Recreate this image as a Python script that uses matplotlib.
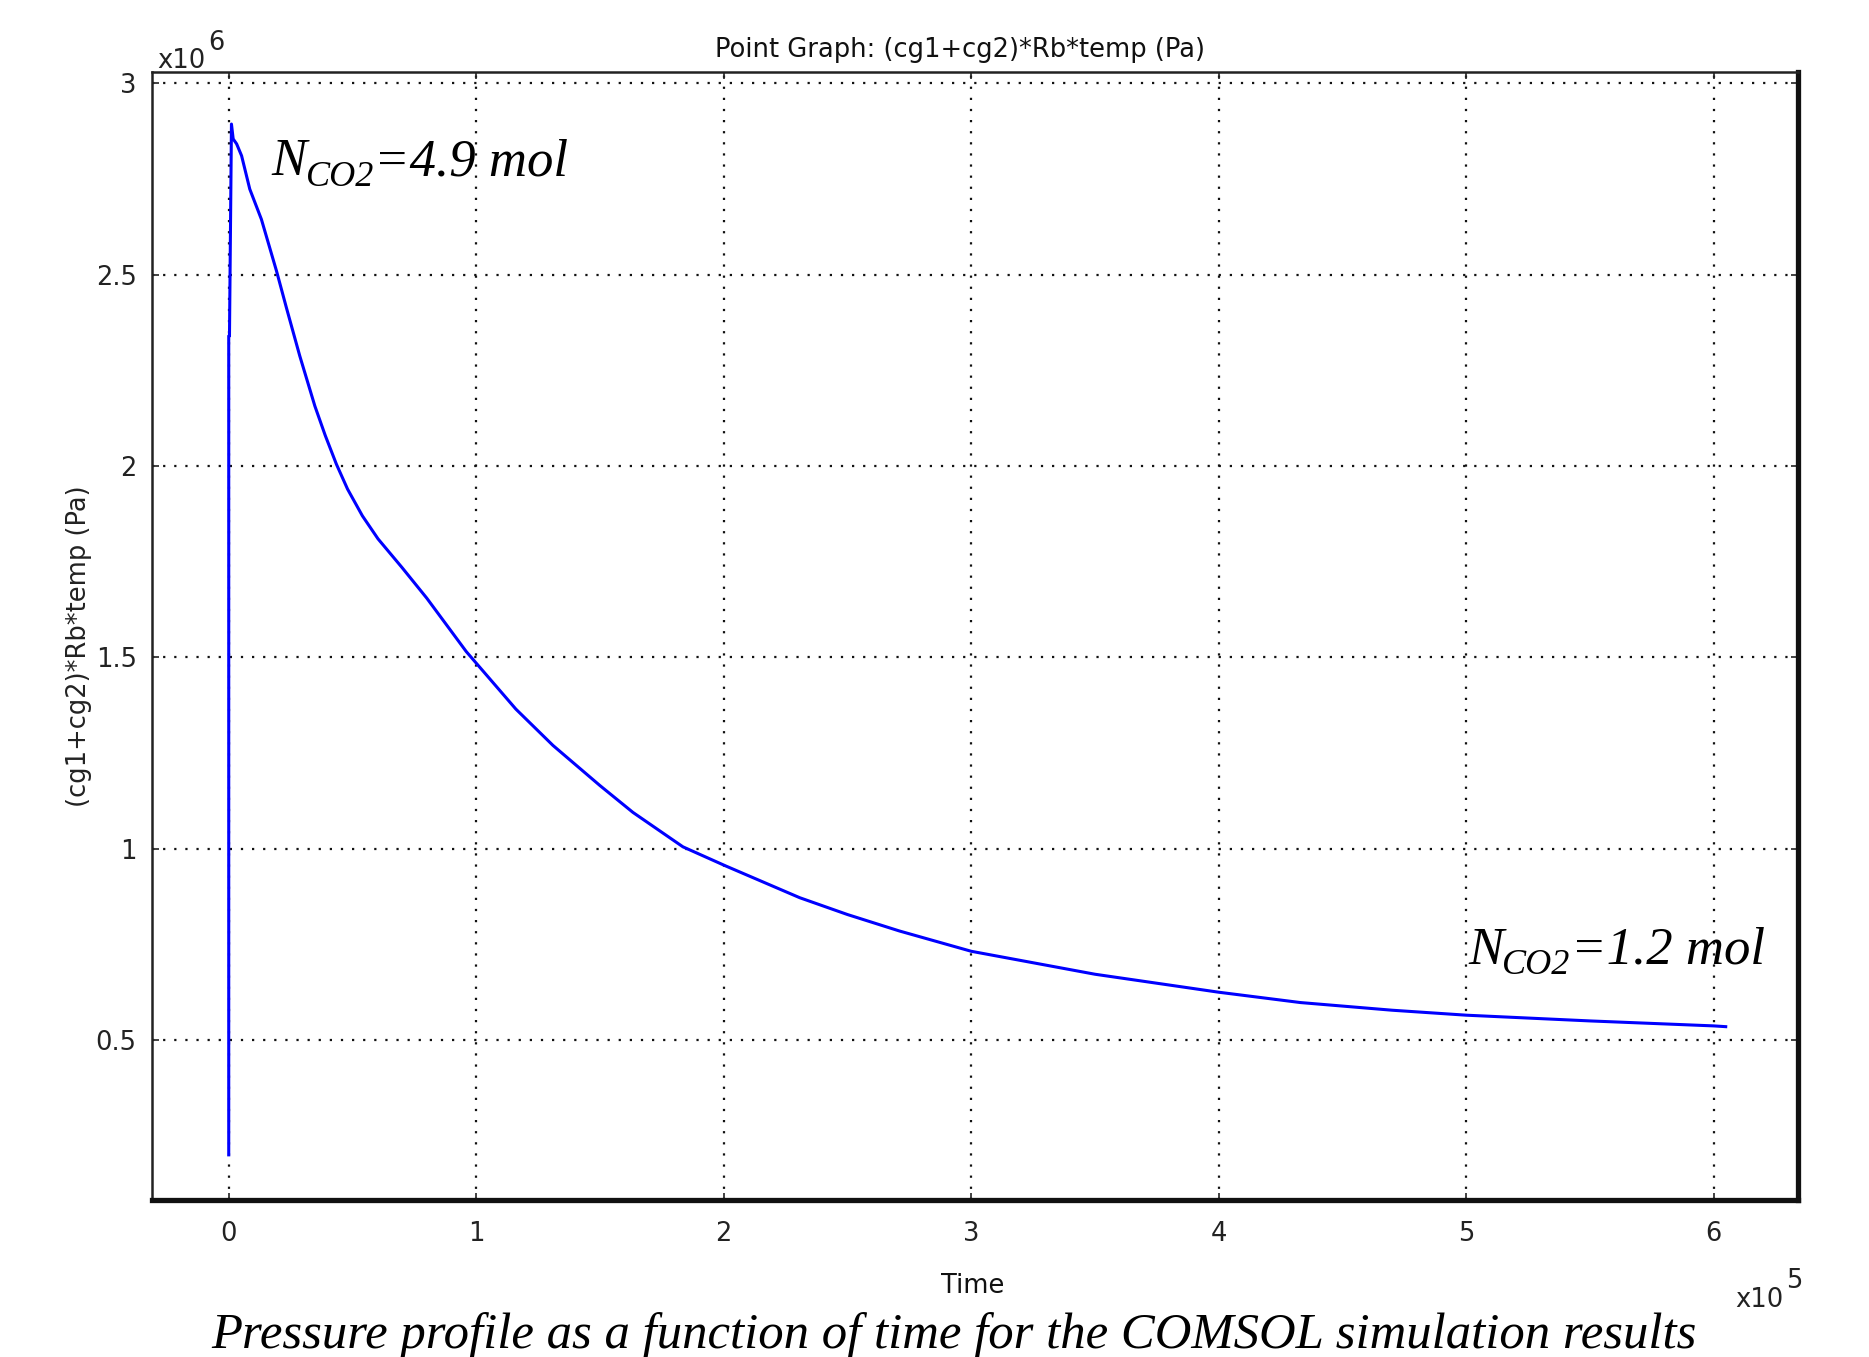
import matplotlib
matplotlib.use('Agg')
import matplotlib.pyplot as plt

## Pressure history from the COMSOL point graph, (cg1+cg2)*Rb*temp
## time in units of 1e5 s, pressure in units of 1e6 Pa

time_1e5 = [0.0, 0.0, 0.003, 0.011, 0.018, 0.032, 0.052, 0.085, 0.132, 0.193, 0.233,
            0.287, 0.348, 0.39, 0.435, 0.48, 0.54, 0.603, 0.70, 0.80, 0.96, 1.16,
            1.31, 1.50, 1.633, 1.835, 2.008, 2.307, 2.50, 2.71, 3.0, 3.5, 4.0,
            4.33, 4.7, 5.0, 5.5, 6.0, 6.048]
pressure_1e6 = [0.20, 2.34, 2.34, 2.894, 2.855, 2.842, 2.811, 2.724, 2.645, 2.510, 2.414,
                2.288, 2.157, 2.08, 2.005, 1.94, 1.87, 1.81, 1.735, 1.655, 1.515, 1.365,
                1.270, 1.165, 1.095, 1.005, 0.955, 0.872, 0.828, 0.785, 0.732, 0.672, 0.625,
                0.598, 0.578, 0.565, 0.550, 0.537, 0.535]

x_ticks = [0, 1, 2, 3, 4, 5, 6]
y_ticks = [0.5, 1, 1.5, 2, 2.5, 3]
y_ticklabels = ['0.5', '1', '1.5', '2', '2.5', '3']

n_start = 4.9
n_end = 1.2

W, H = 1869, 1357
sans = ['DejaVu Sans']
serif = ['Liberation Serif', 'DejaVu Serif']

plt.rcParams['font.family'] = sans

fig = plt.figure(figsize=(W/100, H/100), dpi=100)
fig.patch.set_facecolor('white')

# axes box in pixel coordinates (left, top, right, bottom)
l, t, r, b = 152, 72, 1798, 1200
ax = fig.add_axes([l/W, 1 - b/H, (r - l)/W, (b - t)/H])

ax.plot(time_1e5, pressure_1e6, color='#0000ff', lw=2.2, zorder=3)

ax.set_xlim(-0.31, 6.34)
ax.set_ylim(0.082, 3.03)
ax.set_xticks(x_ticks)
ax.set_yticks(y_ticks)
ax.set_yticklabels(y_ticklabels)

ax.grid(True, color='#111111', linestyle=(0, (1, 4.0)), linewidth=1.6)
ax.set_axisbelow(True)

ax.tick_params(direction='in', top=True, right=True, length=5, width=1.2,
               labelsize=18.5, colors='#222222')
ax.tick_params(axis='x', pad=15)
ax.tick_params(axis='y', pad=11)

for side in ['top', 'left']:
    ax.spines[side].set_linewidth(1.8)
    ax.spines[side].set_color('#222222')
for side in ['bottom', 'right']:
    ax.spines[side].set_linewidth(3.8)
    ax.spines[side].set_color('#111111')

# titles and labels placed in pixel positions
fig.text(960/W, 1 - 57/H, 'Point Graph: (cg1+cg2)*Rb*temp (Pa)', ha='center', va='baseline',
         fontsize=18.5, color='#111111')
fig.text(973/W, 1 - 1293/H, 'Time', ha='center', va='baseline', fontsize=18.5, color='#111111')
fig.text(79/W, 1 - 646/H, '(cg1+cg2)*Rb*temp (Pa)', ha='center', va='center', rotation=90,
         fontsize=18.5, color='#222222')

# exponent markers
fig.text(157/W, 1 - 68/H, 'x10', ha='left', va='baseline', fontsize=18.5, color='#222222')
fig.text(208/W, 1 - 50/H, '6', ha='left', va='baseline', fontsize=18.5, color='#222222')
fig.text(1735/W, 1 - 1307/H, 'x10', ha='left', va='baseline', fontsize=18.5, color='#222222')
fig.text(1786/W, 1 - 1288/H, '5', ha='left', va='baseline', fontsize=18.5, color='#222222')


def n_label(x, y, value):
    # N with a lowered CO2 subscript, then the amount in mol
    kw = dict(family=serif, style='italic', color='k', zorder=4)
    t1 = ax.text(x, y, 'N', ha='left', va='baseline', fontsize=38, **kw)
    t2 = ax.annotate('CO2', xy=(1, 0), xycoords=t1, xytext=(-1, 0.5), textcoords='offset points',
                     ha='left', va='baseline', fontsize=26, **kw)
    ax.annotate(f'={value} mol', xy=(1, 0), xycoords=(t2, t1), ha='left', va='bottom',
                fontsize=38, **kw)


n_label(0.174, 2.76, n_start)
n_label(5.009, 0.70, n_end)

fig.text(954/W, 1 - 1348/H, 'Pressure profile as a function of time for the COMSOL simulation results',
         ha='center', va='baseline', fontsize=36.5, family=serif, style='italic', color='k')

fig.savefig('out.png', dpi=100, facecolor='white')
